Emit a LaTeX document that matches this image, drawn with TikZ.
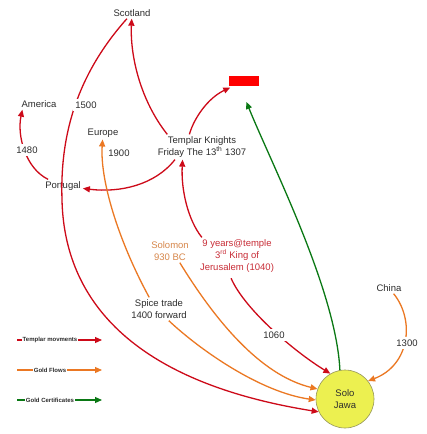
\documentclass[tikz,border=0pt]{standalone}
\usepackage{fontspec}
\setmainfont{Liberation Sans}
\usetikzlibrary{arrows.meta}
\definecolor{tred}{RGB}{205,10,25}
\definecolor{gorange}{RGB}{235,120,35}
\definecolor{cgreen}{RGB}{10,120,20}
\definecolor{txt}{RGB}{45,45,45}
\definecolor{soltxt}{RGB}{215,135,75}
\definecolor{ninetxt}{RGB}{200,45,55}
\definecolor{jawa}{RGB}{236,240,80}
\definecolor{jawaedge}{RGB}{150,150,90}
\definecolor{rectred}{RGB}{255,0,0}
\begin{document}
\begin{tikzpicture}[x=1pt,y=-1pt,
  lbl/.style={text=txt, font=\fontsize{9.5}{12}\selectfont, align=center, inner sep=2pt},
  onpath/.style={lbl, fill=white, inner sep=2.5pt},
  tip/.style={-{Triangle[length=7pt,width=6pt]}},
  tm/.style={draw=tred, line width=1.3pt, tip},
  gf/.style={draw=gorange, line width=1.3pt, tip},
  gc/.style={draw=cgreen, line width=1.3pt, tip},
  legtext/.style={font=\fontsize{6}{7}\selectfont\bfseries, text=txt, fill=white, inner sep=0.6pt}
]
\useasboundingbox (0,0) rectangle (427,434);
\fill[white] (0,0) rectangle (427,434);

% main nodes
\node[lbl] (sco) at (132,13) {Scotland};
\node[lbl] (ame) at (39,104) {America};
\node[lbl] (eur) at (103,133) {Europe};
\node[lbl] (por) at (63,186) {Portugal};
\node[lbl] (tk) at (202,147) {Templar Knights\\Friday The 13\textsuperscript{th} 1307};
\node[fill=rectred, minimum width=30pt, minimum height=10pt, inner sep=0pt] (rect) at (244,81) {};
\node[lbl, text=soltxt] (sol) at (170,251) {Solomon\\930 BC};
\node[lbl, text=ninetxt] (nine) at (237,256) {9 years@temple\\3\textsuperscript{rd} King of\\Jerusalem (1040)};
\node[lbl] (spice) at (159,309) {Spice trade\\1400 forward};
\node[lbl] (china) at (389,288) {China};
\node[lbl, circle, fill=jawa, draw=jawaedge, line width=0.6pt, minimum size=58pt, inner sep=0pt] (solo) at (345,399) {Solo\\Jawa};

% templar movements
\draw[tm] (sco) .. controls (74,78) and (60,140) .. (62,200) .. controls (64,290) and (120,380) .. (solo.206);
\draw[tm] (tk.160) .. controls (140,100) and (130,55) .. (sco);
\draw[tm, shorten >=3pt] (tk.135) .. controls (194,118) and (208,98) .. (rect);
\draw[tm] (tk.205) .. controls (155,185) and (120,193) .. (por);
\draw[tm] ([xshift=5pt]por.north west) .. controls (25,168) and (17,135) .. ([xshift=3pt]ame.south west);
\draw[tm] ([xshift=4pt]nine.north west) .. controls (188,220) and (181,190) .. (tk.213);
\draw[tm, shorten <=4pt] (nine.248) .. controls (245,310) and (295,352) .. (solo.120);

% gold flows
\draw[gf] (sol.310) .. controls (215,320) and (260,375) .. (solo.160);
\draw[gf] (spice.310) .. controls (200,350) and (260,392) .. (solo.182);
\draw[gf] (spice.130) .. controls (118,240) and (100,180) .. (eur);
\draw[gf] (china) .. controls (415,320) and (410,365) .. (solo.38);

% gold certificates
\draw[gc, shorten >=17pt] (solo.100) .. controls (336,290) and (272,165) .. ([xshift=-4pt]rect.south);

% labels on paths
\node[onpath] (l1500) at (86,105) {1500};
\node[onpath] (l1480) at (27,150) {1480};
\node[lbl] (l1900) at (119,153) {1900};
\node[onpath] (l1060) at (274,335) {1060};
\node[onpath] (l1300) at (407,343) {1300};

% legend
\coordinate (lra) at (17,340);
\coordinate (lrb) at (102,340);
\coordinate (loa) at (17,370);
\coordinate (lob) at (102,370);
\coordinate (lga) at (17,400);
\coordinate (lgb) at (102,400);
\draw[tm, line width=1.1pt] (lra) -- (lrb);
\draw[gf, line width=1.1pt] (loa) -- (lob);
\draw[gc, line width=1.1pt] (lga) -- (lgb);
\node[legtext] (lt1) at (50,340) {Templar movments};
\node[legtext] (lt2) at (50,370) {Gold Flows};
\node[legtext] (lt3) at (50,400) {Gold Certificates};
\end{tikzpicture}
\end{document}
